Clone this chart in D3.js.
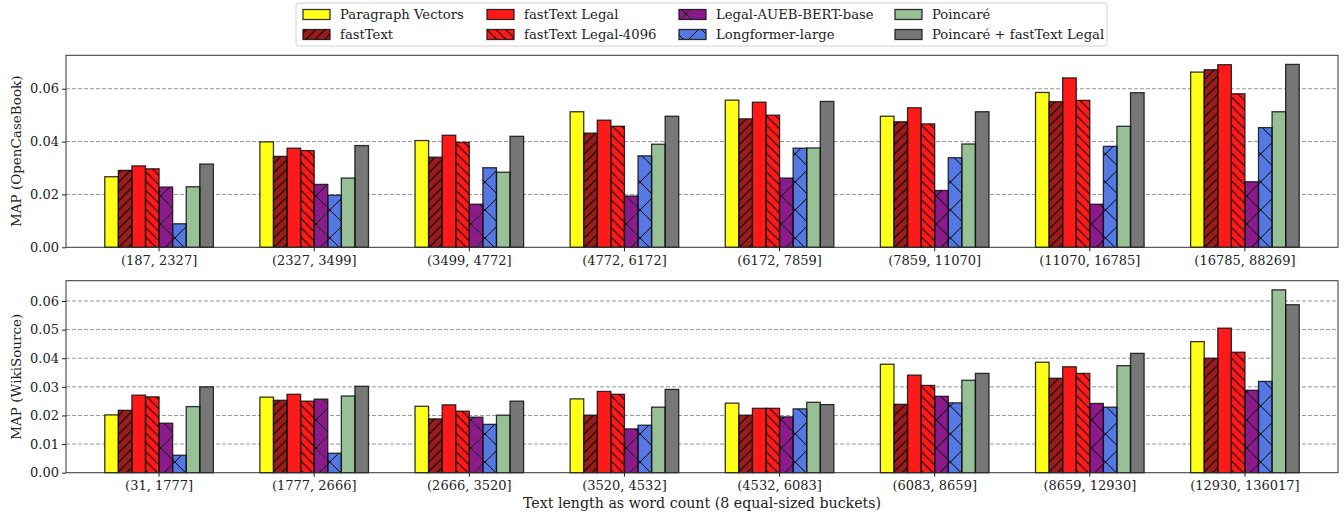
<!DOCTYPE html>
<html>
<head>
<meta charset="utf-8">
<script src="https://cdn.jsdelivr.net/npm/d3@7"></script>
<style>
  body { margin: 0; background: #fff; }
  svg text { font-family: "DejaVu Serif", serif; fill: #222; }
</style>
</head>
<body>
<svg id="chart"></svg>
<script>
// series (legend order)
var seriesNames = ["Paragraph Vectors", "fastText", "fastText Legal", "fastText Legal-4096",
                   "Legal-AUEB-BERT-base", "Longformer-large", "Poincaré", "Poincaré + fastText Legal"];
var seriesColors = ["#ffff1a", "#9b1c1c", "#ff1a1a", "#ff1a1a", "#8b1a8b", "#5479e3", "#97c097", "#777777"];
var seriesHatch = [null, "fwd", null, "back", "cross", "cross", null, null];

// buckets
var ocbBuckets = ["(187, 2327]", "(2327, 3499]", "(3499, 4772]", "(4772, 6172]",
                  "(6172, 7859]", "(7859, 11070]", "(11070, 16785]", "(16785, 88269]"];
var wsBuckets = ["(31, 1777]", "(1777, 2666]", "(2666, 3520]", "(3520, 4532]",
                 "(4532, 6083]", "(6083, 8659]", "(8659, 12930]", "(12930, 136017]"];

// MAP on OpenCaseBook
var ocbParagraphVectors = [0.0267, 0.0399, 0.0404, 0.0513, 0.0557, 0.0496, 0.0586, 0.0663];
var ocbFastText         = [0.0291, 0.0344, 0.0341, 0.0432, 0.0486, 0.0475, 0.0551, 0.0672];
var ocbFastTextLegal    = [0.0308, 0.0375, 0.0424, 0.0481, 0.0549, 0.0528, 0.0641, 0.0691];
var ocbFastTextLegal4096= [0.0297, 0.0366, 0.0397, 0.0458, 0.0500, 0.0467, 0.0556, 0.0581];
var ocbLegalBert        = [0.0228, 0.0238, 0.0163, 0.0194, 0.0262, 0.0215, 0.0163, 0.0248];
var ocbLongformer       = [0.0089, 0.0197, 0.0301, 0.0346, 0.0375, 0.0339, 0.0382, 0.0453];
var ocbPoincare         = [0.0229, 0.0262, 0.0284, 0.0390, 0.0376, 0.0391, 0.0458, 0.0513];
var ocbPoincareFastText = [0.0315, 0.0385, 0.0420, 0.0496, 0.0552, 0.0513, 0.0585, 0.0692];

// MAP on WikiSource
var wsParagraphVectors  = [0.0202, 0.0264, 0.0232, 0.0258, 0.0243, 0.0379, 0.0386, 0.0458];
var wsFastText          = [0.0218, 0.0253, 0.0188, 0.0201, 0.0201, 0.0239, 0.0330, 0.0400];
var wsFastTextLegal     = [0.0271, 0.0274, 0.0237, 0.0284, 0.0225, 0.0341, 0.0370, 0.0505];
var wsFastTextLegal4096 = [0.0265, 0.0250, 0.0215, 0.0274, 0.0225, 0.0305, 0.0347, 0.0421];
var wsLegalBert         = [0.0173, 0.0257, 0.0194, 0.0153, 0.0195, 0.0267, 0.0242, 0.0288];
var wsLongformer        = [0.0061, 0.0068, 0.0169, 0.0166, 0.0223, 0.0244, 0.0229, 0.0319];
var wsPoincare          = [0.0231, 0.0268, 0.0201, 0.0229, 0.0246, 0.0323, 0.0374, 0.0639];
var wsPoincareFastText  = [0.0300, 0.0302, 0.0250, 0.0291, 0.0238, 0.0347, 0.0417, 0.0587];

var ocbTicks = [0, 0.02, 0.04, 0.06];
var wsTicks = [0, 0.01, 0.02, 0.03, 0.04, 0.05, 0.06];

var width = 1344, height = 517;
var svg = d3.select("#chart").attr("width", width).attr("height", height);

// hatch patterns
var defs = svg.append("defs");
function addPattern(id, size, lines) {
    var p = defs.append("pattern")
        .attr("id", id)
        .attr("patternUnits", "userSpaceOnUse")
        .attr("width", size)
        .attr("height", size);
    lines.forEach(function(l) {
        p.append("line")
            .attr("x1", l[0] * size).attr("y1", l[1] * size)
            .attr("x2", l[2] * size).attr("y2", l[3] * size)
            .attr("stroke", "#000").attr("stroke-width", 1);
    });
}
var fwd = [[0, 1, 1, 0], [-0.5, 0.5, 0.5, -0.5], [0.5, 1.5, 1.5, 0.5]];
var back = [[0, 0, 1, 1], [-0.5, 0.5, 0.5, 1.5], [0.5, -0.5, 1.5, 0.5]];
addPattern("fwd", 28 / 3, fwd);
addPattern("back", 28 / 3, back);
addPattern("cross", 28, fwd.concat(back));

var plotLeft = 66, plotRight = 1338;

var x = d3.scaleBand()
    .domain(d3.range(8))
    .range([plotLeft, plotRight])
    .paddingInner(0.3)
    .paddingOuter(0.25);

var xs = d3.scaleBand()
    .domain(seriesNames)
    .range([0, x.bandwidth()]);

function drawPanel(cfg) {
    var y = d3.scaleLinear()
        .domain([0, d3.max(cfg.values, s => d3.max(s)) * 1.05])
        .range([cfg.bottom, cfg.top]);

    var g = svg.append("g");

    // grid
    g.selectAll(".grid")
        .data(cfg.ticks.slice(1))
        .enter()
        .append("line")
        .attr("x1", plotLeft).attr("x2", plotRight)
        .attr("y1", d => y(d)).attr("y2", d => y(d))
        .attr("stroke", "#8a8a8a")
        .attr("stroke-width", 0.9)
        .attr("stroke-dasharray", "4,2");

    // bars
    var groups = g.selectAll(".grp")
        .data(cfg.values[0].map((_, i) => i))
        .enter()
        .append("g")
        .attr("transform", i => "translate(" + x(i) + ",0)");

    groups.each(function(i) {
        var rows = seriesNames.map((name, s) => ({ name: name, s: s, v: cfg.values[s][i] }));
        var sel = d3.select(this);
        sel.selectAll(".bar")
            .data(rows)
            .enter()
            .append("rect")
            .attr("x", d => xs(d.name))
            .attr("y", d => y(d.v))
            .attr("width", xs.bandwidth())
            .attr("height", d => y(0) - y(d.v))
            .attr("fill", d => seriesColors[d.s]);
        sel.selectAll(".hatch")
            .data(rows)
            .enter()
            .append("rect")
            .attr("x", d => xs(d.name))
            .attr("y", d => y(d.v))
            .attr("width", xs.bandwidth())
            .attr("height", d => y(0) - y(d.v))
            .attr("fill", d => seriesHatch[d.s] ? "url(#" + seriesHatch[d.s] + ")" : "none")
            .attr("stroke", "#111")
            .attr("stroke-opacity", 0.85)
            .attr("stroke-width", 1.3);
    });

    // frame
    g.append("rect")
        .attr("x", plotLeft).attr("y", cfg.top)
        .attr("width", plotRight - plotLeft).attr("height", cfg.bottom - cfg.top)
        .attr("fill", "none")
        .attr("stroke", "#333")
        .attr("stroke-width", 1);

    // axes
    var yAxis = g.append("g")
        .attr("transform", "translate(" + plotLeft + ",0)")
        .call(d3.axisLeft(y).tickValues(cfg.ticks).tickFormat(d3.format(".2f")).tickSize(4).tickPadding(3));
    yAxis.select(".domain").remove();

    var xAxis = g.append("g")
        .attr("transform", "translate(0," + cfg.bottom + ")")
        .call(d3.axisBottom(x).tickFormat(i => cfg.buckets[i]).tickSize(4).tickPadding(4));
    xAxis.select(".domain").remove();

    g.selectAll(".tick line").attr("stroke", "#222");
    g.selectAll(".tick text")
        .style("font-family", "'DejaVu Serif', serif")
        .style("font-size", "13px")
        .attr("fill", "#222");

    // y label
    g.append("text")
        .attr("transform", "translate(21," + ((cfg.top + cfg.bottom) / 2) + ") rotate(-90)")
        .style("text-anchor", "middle")
        .style("font-size", "13.5px")
        .text(cfg.label);
}

drawPanel({
    top: 55.3, bottom: 247.3,
    buckets: ocbBuckets,
    ticks: ocbTicks,
    label: "MAP (OpenCaseBook)",
    values: [ocbParagraphVectors, ocbFastText, ocbFastTextLegal, ocbFastTextLegal4096,
             ocbLegalBert, ocbLongformer, ocbPoincare, ocbPoincareFastText]
});

drawPanel({
    top: 280.7, bottom: 472.7,
    buckets: wsBuckets,
    ticks: wsTicks,
    label: "MAP (WikiSource)",
    values: [wsParagraphVectors, wsFastText, wsFastTextLegal, wsFastTextLegal4096,
             wsLegalBert, wsLongformer, wsPoincare, wsPoincareFastText]
});

// x label
svg.append("text")
    .attr("x", (plotLeft + plotRight) / 2)
    .attr("y", 508)
    .style("text-anchor", "middle")
    .style("font-size", "14.2px")
    .text("Text length as word count (8 equal-sized buckets)");

// legend
var legend = svg.append("g");
legend.append("rect")
    .attr("x", 296).attr("y", 3)
    .attr("width", 811).attr("height", 43)
    .attr("rx", 3)
    .attr("fill", "#fff")
    .attr("stroke", "#d0d0d0");

var colX = [303, 487, 679, 895];
var rowY = [14.5, 34.5];
seriesNames.forEach(function(name, s) {
    var cx = colX[Math.floor(s / 2)], cy = rowY[s % 2];
    legend.append("rect")
        .attr("x", cx).attr("y", cy - 5)
        .attr("width", 27).attr("height", 10)
        .attr("fill", seriesColors[s]);
    legend.append("rect")
        .attr("x", cx).attr("y", cy - 5)
        .attr("width", 27).attr("height", 10)
        .attr("fill", seriesHatch[s] ? "url(#" + seriesHatch[s] + ")" : "none")
        .attr("stroke", "#111")
        .attr("stroke-opacity", 0.85)
        .attr("stroke-width", 1.3);
    legend.append("text")
        .attr("x", cx + 37).attr("y", cy)
        .attr("dy", "0.35em")
        .style("font-size", "13.2px")
        .text(name);
});
</script>
</body>
</html>
